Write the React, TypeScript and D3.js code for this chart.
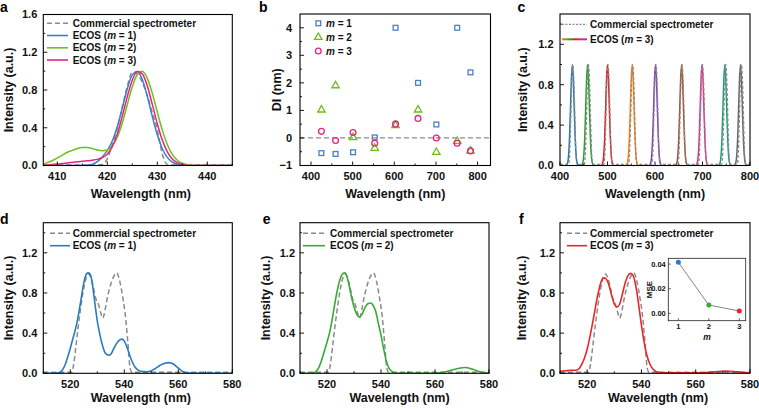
import React from 'react';
import * as d3 from 'd3';

const FONT = "'Liberation Sans', Arial, Helvetica, sans-serif";

// ---------------- Panel a data ----------------
const aWavelength = d3.range(407, 446); // 407..445 nm
const aCommercial = [0.005,0.005,0.005,0.005,0.005,0.005,0.005,0.005,0.005,0.005,0.005,0.005,
  0.01,0.07,0.22,0.40,0.62,0.84,0.99,0.97,0.88,0.74,0.56,0.38,0.12,0.01,
  0.005,0.005,0.005,0.005,0.005,0.005,0.005,0.01,0.005,0.005,0.005,0.005,0.005];
const aEcos1 = [0,0,0,0,0,0,0,0,0.001,0.004,0.012,0.04,0.09,0.16,0.26,0.41,0.607,0.813,0.96,0.997,0.912,0.734,0.52,0.325,0.178,0.086,0.037,0.014,0.005,0,0,0,0,0,0,0,0,0,0];
const aEcos2 = [0.01,0.03,0.05,0.08,0.11,0.14,0.16,0.18,0.19,0.19,0.18,0.165,0.157,0.165,0.21,0.3,0.45,0.647,0.835,0.965,0.998,0.923,0.764,0.566,0.375,0.223,0.118,0.056,0.024,0.009,0.003,0,0,0,0,0,0,0,0];
const aEcos3 = [0,0.005,0.01,0.015,0.02,0.027,0.033,0.039,0.045,0.05,0.056,0.065,0.085,0.12,0.2,0.333,0.523,0.73,0.904,0.995,0.971,0.842,0.648,0.443,0.269,0.145,0.069,0.03,0.011,0.004,0,0,0,0,0,0,0,0,0];

// ---------------- Panel b data ----------------
const bWavelength = [425, 459, 501, 553, 603, 657, 701, 751, 783];
const bM1 = [-0.55, -0.58, -0.52, 0.02, 4.0, 2.0, 0.49, 4.0, 2.38];
const bM2 = [1.02, 1.9, 0.02, -0.37, 0.45, 1.02, -0.52, -0.12, -0.47];
const bM3 = [0.24, -0.09, 0.2, -0.19, 0.51, 0.71, 0.0, -0.19, -0.47];

// ---------------- Panel c data ----------------
const cPeakCenters = [426, 458, 500, 552, 601, 656, 699, 747, 780];
const cPeakColors = ['#1f77b4', '#2ca02c', '#e31a1c', '#ff7f0e', '#7e3fb8', '#a0522d', '#e7298a', '#1b9e77', '#666666'];
const cEcosOffsets = [-14, -12, -10, -8, -6, -4, -2, 0, 2, 4, 6, 8, 10, 12, 14];
const cEcosProfile = [0, 0.005, 0.026, 0.097, 0.27, 0.558, 0.864, 1, 0.864, 0.558, 0.27, 0.097, 0.026, 0.005, 0];
const cCommercialCenters = [427, 460, 501, 553, 602, 657, 700, 749, 782];
const cCommercialOffsets = [-9, -7, -5, -3, -1, 0, 1, 3, 5, 7, 9];
const cCommercialProfile = [0.012, 0.08, 0.35, 0.72, 0.96, 1, 0.96, 0.72, 0.35, 0.08, 0.012];
const cBaseline = 0.012;

// ---------------- Panels d/e/f data ----------------
const defCommercial: [number, number][] = [
  [510,0.01],[514,0.01],[518,0.01],[520.5,0.01],[521.3,0.1],[522,0.25],[523,0.48],[524,0.68],[525,0.85],[526,0.96],
  [526.7,0.99],[527.5,0.96],[528.5,0.86],[529.5,0.74],[530.5,0.68],[531.3,0.6],[532,0.55],[532.8,0.62],[533.7,0.75],
  [534.8,0.87],[536,0.96],[537.2,1.0],[538.3,0.92],[539.4,0.76],[540.5,0.55],[541.4,0.28],[542.1,0.06],[542.8,0.01],
  [546,0.01],[550,0.01],[555,0.01],[560,0.01],[565,0.01],[570,0.01],[575,0.01],[580,0.01]];
const dEcos1: [number, number][] = [
  [510,0],[512,0],[514,0],[515,0.003],[516,0.008],[517,0.03],[518,0.08],[519,0.16],[520,0.25],[521,0.35],[522,0.45],
  [523,0.58],[524,0.74],[525,0.9],[526,0.99],[526.7,1.0],[527.5,0.98],[528,0.92],[529,0.72],[530,0.52],[531,0.38],
  [532,0.27],[533,0.2],[534.3,0.18],[535,0.19],[536,0.24],[537,0.29],[538,0.325],[539.2,0.34],[540,0.32],[541,0.26],
  [542,0.18],[543,0.11],[544,0.06],[545,0.035],[546,0.02],[548.5,0.015],[550,0.025],[551,0.04],[552,0.057],[553,0.075],
  [554,0.09],[555,0.1],[556.4,0.106],[557,0.104],[558,0.095],[559,0.075],[560,0.052],[561,0.03],[562,0.014],[563,0.005],
  [565,0],[570,0],[575,0],[580,0]];
const eEcos2: [number, number][] = [
  [510,0],[514,0],[515,0.005],[516,0.02],[517,0.06],[518,0.13],[519,0.22],[520,0.31],[521,0.41],[522,0.55],[523,0.71],
  [524,0.85],[525,0.95],[526,0.995],[526.5,1.0],[527,0.99],[528,0.9],[529,0.77],[530,0.66],[531,0.59],[532,0.56],
  [533,0.59],[534,0.65],[535,0.69],[536.2,0.70],[537,0.68],[538,0.62],[539,0.5],[540,0.38],[541,0.24],[542,0.12],
  [543,0.05],[544,0.02],[545,0.005],[546,0],[560,0],[562,0.005],[564,0.015],[566,0.03],[568,0.045],[570,0.055],
  [571,0.058],[572,0.055],[574,0.04],[576,0.02],[578,0.007],[580,0]];
const fEcos3: [number, number][] = [
  [510,0.02],[512,0.025],[514,0.03],[516,0.03],[517,0.045],[518,0.09],[519,0.15],[520,0.24],[521,0.36],[522,0.5],
  [523,0.65],[524,0.79],[525,0.9],[526,0.95],[527,0.94],[528,0.88],[529,0.78],[530,0.69],[531,0.66],[532,0.69],
  [533,0.79],[534,0.9],[535,0.97],[536,0.995],[537,0.97],[538,0.86],[539,0.68],[540,0.48],[541,0.31],[542,0.18],
  [543,0.1],[544,0.05],[545,0.025],[546,0.012],[548,0.005],[560,0.005],[565,0.01],[568,0.018],[571,0.022],[574,0.018],
  [577,0.01],[580,0.005]];

// inset of f
const insetM = [1, 2, 3];
const insetMSE = [0.0414, 0.0067, 0.0019];
const insetColors = ['#2a7cc0', '#3aaa35', '#e8262a'];

const GRAY = '#8a8a8a';
const DASH = '5,3';

type Frame = { l: number; r: number; t: number; b: number };
type Sc = d3.ScaleLinear<number, number>;

function lineOf(x: Sc, y: Sc, pts: [number, number][]) {
  return d3.line<[number, number]>().x(d => x(d[0])).y(d => y(d[1])).curve(d3.curveMonotoneX)(pts) || '';
}

function Panel(props: {
  id: string; frame: Frame; xDomain: [number, number]; yDomain: [number, number];
  xTicks: number[]; xMinor: number[]; yTicks: number[]; yMinor: number[];
  yFmt: (v: number) => string; yLabel: string; yLabelX: number; yGap: number; xLabelDx: number;
  xLabelY: number; letter: string; letterX: number; letterY: number;
  plot: (x: Sc, y: Sc) => React.ReactNode; over?: (x: Sc, y: Sc) => React.ReactNode;
}) {
  const { frame: f } = props;
  const x = d3.scaleLinear().domain(props.xDomain).range([f.l, f.r]);
  const y = d3.scaleLinear().domain(props.yDomain).range([f.b, f.t]);
  const cy = (f.t + f.b) / 2;
  const cx = (f.l + f.r) / 2 + props.xLabelDx;
  return (
    <g>
      <defs>
        <clipPath id={props.id}>
          <rect x={f.l} y={f.t} width={f.r - f.l} height={f.b - f.t} />
        </clipPath>
      </defs>
      <g clipPath={`url(#${props.id})`}>{props.plot(x, y)}</g>
      <g stroke="#000" strokeWidth={0.9}>
        {props.xTicks.map(v => <line key={'xt' + v} x1={x(v)} x2={x(v)} y1={f.b} y2={f.b - 4} />)}
        {props.xMinor.map(v => <line key={'xm' + v} x1={x(v)} x2={x(v)} y1={f.b} y2={f.b - 2} />)}
        {props.yTicks.map(v => <line key={'yt' + v} x1={f.l} x2={f.l + 4} y1={y(v)} y2={y(v)} />)}
        {props.yMinor.map(v => <line key={'ym' + v} x1={f.l} x2={f.l + 2} y1={y(v)} y2={y(v)} />)}
      </g>
      <rect x={f.l} y={f.t} width={f.r - f.l} height={f.b - f.t} fill="none" stroke="#000" strokeWidth={1.1} />
      {props.over && props.over(x, y)}
      <g fontSize={11} fontWeight="bold" fill="#111">
        {props.xTicks.map(v => (
          <text key={'xl' + v} x={x(v)} y={f.b + 14.5} textAnchor="middle">{v}</text>
        ))}
        {props.yTicks.map(v => (
          <text key={'yl' + v} x={f.l - props.yGap} y={y(v)} dy="0.36em" textAnchor="end">{props.yFmt(v)}</text>
        ))}
      </g>
      <text x={cx} y={props.xLabelY} textAnchor="middle" fontSize={12.5} fontWeight="bold" fill="#111">Wavelength (nm)</text>
      <text transform={`translate(${props.yLabelX},${cy}) rotate(-90)`} textAnchor="middle" fontSize={12.5} fontWeight="bold" fill="#111">{props.yLabel}</text>
      <text x={props.letterX} y={props.letterY} fontSize={14} fontWeight="bold" fill="#000">{props.letter}</text>
    </g>
  );
}

function LegendLine(p: { x1: number; x2: number; tx: number; y: number; color: string; dash?: string; children: React.ReactNode; width?: number; stroke?: string }) {
  return (
    <g>
      <line x1={p.x1} x2={p.x2} y1={p.y} y2={p.y} stroke={p.stroke || p.color} strokeWidth={p.width || 1.6} strokeDasharray={p.dash} />
      <text x={p.tx} y={p.y} dy="0.36em" fontSize={10} fontWeight="bold" fill="#111">{p.children}</text>
    </g>
  );
}

const I = (s: string) => <tspan fontStyle="italic">{s}</tspan>;

const fmt1 = d3.format('.1f');
const fmtInt = (v: number) => d3.format('d')(v);

export default function App() {
  const aCol = { m1: '#3f7fc6', m2: '#6cc11c', m3: '#e8237d' };
  const bCol = { m1: '#4a7fc4', m2: '#6cbf1a', m3: '#e8237d' };
  const defY = { yTicks: [0, 0.4, 0.8, 1.2], yMinor: [0.2, 0.6, 1.0, 1.4], yDomain: [0, 1.5] as [number, number] };
  const defX = { xDomain: [510, 580] as [number, number], xTicks: [520, 540, 560, 580], xMinor: [510, 530, 550, 570] };

  const cCommercialPts: [number, number][] = [[400, cBaseline]];
  cCommercialCenters.forEach(c => cCommercialOffsets.forEach((o, i) => cCommercialPts.push([c + o, cCommercialProfile[i]])));
  cCommercialPts.push([800, cBaseline]);

  return (
    <svg width={759} height={411} style={{ position: 'absolute', left: 0, top: 0, background: '#fff' }} fontFamily={FONT}>
      <defs>
        <linearGradient id="ecosGrad" gradientUnits="userSpaceOnUse" x1={562} x2={587} y1={0} y2={0}>
          <stop offset="0" stopColor="#ff7f0e" />
          <stop offset="0.3" stopColor="#2ca02c" />
          <stop offset="0.55" stopColor="#e31a1c" />
          <stop offset="0.8" stopColor="#e7298a" />
          <stop offset="1" stopColor="#7e3fb8" />
        </linearGradient>
      </defs>

      {/* ---------- a ---------- */}
      <Panel id="pa" frame={{ l: 43.3, r: 232.3, t: 14.5, b: 165.5 }} xDomain={[407.2, 445]} yDomain={[0, 1.6]}
        xTicks={[410, 420, 430, 440]} xMinor={[415, 425, 435, 445]} yTicks={[0, 0.4, 0.8, 1.2, 1.6]} yMinor={[0.2, 0.6, 1.0, 1.4]}
        yFmt={fmt1} yLabel="Intensity (a.u.)" yLabelX={12.5} yGap={6} xLabelDx={3} xLabelY={197.5}
        letter="a" letterX={0} letterY={11.5}
        plot={(x, y) => (
          <g fill="none">
            <path d={lineOf(x, y, aWavelength.map((w, i) => [w, aCommercial[i]]))} stroke={GRAY} strokeWidth={1.5} strokeDasharray={DASH} />
            <path d={lineOf(x, y, aWavelength.map((w, i) => [w, aEcos1[i]]))} stroke={aCol.m1} strokeWidth={1.5} />
            <path d={lineOf(x, y, aWavelength.map((w, i) => [w, aEcos2[i]]))} stroke={aCol.m2} strokeWidth={1.5} />
            <path d={lineOf(x, y, aWavelength.map((w, i) => [w, aEcos3[i]]))} stroke={aCol.m3} strokeWidth={1.5} />
          </g>
        )}
        over={() => (
          <g>
            <LegendLine x1={47} x2={68} tx={72.7} y={23.3} color={GRAY} dash={DASH}>Commercial spectrometer</LegendLine>
            <LegendLine x1={47} x2={68} tx={72.7} y={35.5} color={aCol.m1}>ECOS ({I('m')} = 1)</LegendLine>
            <LegendLine x1={47} x2={68} tx={72.7} y={47.8} color={aCol.m2}>ECOS ({I('m')} = 2)</LegendLine>
            <LegendLine x1={47} x2={68} tx={72.7} y={60} color={aCol.m3}>ECOS ({I('m')} = 3)</LegendLine>
          </g>
        )}
      />

      {/* ---------- b ---------- */}
      <Panel id="pb" frame={{ l: 300, r: 490.5, t: 14, b: 165.5 }} xDomain={[373.6, 831]} yDomain={[-1, 4.5]}
        xTicks={[400, 500, 600, 700, 800]} xMinor={[450, 550, 650, 750]} yTicks={[-1, 0, 1, 2, 3, 4]} yMinor={[-0.5, 0.5, 1.5, 2.5, 3.5]}
        yFmt={fmtInt} yLabel="DI (nm)" yLabelX={281} yGap={8} xLabelDx={0} xLabelY={197.5}
        letter="b" letterX={259} letterY={12}
        plot={(x, y) => (
          <g fill="none" strokeWidth={1.3}>
            <line x1={x(373.6)} x2={x(831)} y1={y(0)} y2={y(0)} stroke={GRAY} strokeWidth={1.3} strokeDasharray={DASH} />
            {bWavelength.map((w, i) => (
              <rect key={'s' + i} x={x(w) - 2.4} y={y(bM1[i]) - 2.4} width={4.8} height={4.8} stroke={bCol.m1} />
            ))}
            {bWavelength.map((w, i) => (
              <path key={'t' + i} transform={`translate(${x(w)},${y(bM2[i])})`} d={d3.symbol().type(d3.symbolTriangle).size(24)() || ''} stroke={bCol.m2} />
            ))}
            {bWavelength.map((w, i) => (
              <circle key={'c' + i} cx={x(w)} cy={y(bM3[i])} r={2.9} stroke={bCol.m3} />
            ))}
          </g>
        )}
        over={() => (
          <g fill="none" strokeWidth={1.3}>
            <rect x={318.3 - 2.4} y={23.3 - 2.4} width={4.8} height={4.8} stroke={bCol.m1} />
            <path transform="translate(318.3,37.3)" d={d3.symbol().type(d3.symbolTriangle).size(24)() || ''} stroke={bCol.m2} />
            <circle cx={318.3} cy={51} r={2.9} stroke={bCol.m3} />
            <g fontSize={10} fontWeight="bold" fill="#111" stroke="none">
              <text x={326} y={23.3} dy="0.36em">{I('m')} = 1</text>
              <text x={326} y={37.3} dy="0.36em">{I('m')} = 2</text>
              <text x={326} y={51} dy="0.36em">{I('m')} = 3</text>
            </g>
          </g>
        )}
      />

      {/* ---------- c ---------- */}
      <Panel id="pc" frame={{ l: 560, r: 750, t: 14, b: 165.5 }} xDomain={[400, 800]} yDomain={[0, 1.5]}
        xTicks={[400, 500, 600, 700, 800]} xMinor={[450, 550, 650, 750]} yTicks={[0, 0.4, 0.8, 1.2]} yMinor={[0.2, 0.6, 1.0, 1.4]}
        yFmt={fmt1} yLabel="Intensity (a.u.)" yLabelX={526.5} yGap={6.5} xLabelDx={0} xLabelY={197.5}
        letter="c" letterX={517.5} letterY={12}
        plot={(x, y) => (
          <g fill="none">
            {cPeakCenters.map((c, k) => (
              <path key={'pk' + k} d={lineOf(x, y, cEcosOffsets.map((o, i) => [c + o, cEcosProfile[i]]))} stroke={cPeakColors[k]} strokeWidth={1.5} />
            ))}
            <path d={lineOf(x, y, cCommercialPts)} stroke={GRAY} strokeWidth={1.3} strokeDasharray="3,2" />
          </g>
        )}
        over={() => (
          <g>
            <LegendLine x1={562} x2={587} tx={590} y={24.3} color={GRAY} dash="2,1.5" width={1.3}>Commercial spectrometer</LegendLine>
            <LegendLine x1={562} x2={587} tx={590} y={39.3} color="#e31a1c" stroke="url(#ecosGrad)" width={2}>ECOS ({I('m')} = 3)</LegendLine>
          </g>
        )}
      />

      {/* ---------- d ---------- */}
      <Panel id="pd" frame={{ l: 43.3, r: 232.3, t: 222.7, b: 373.3 }} {...defX} {...defY}
        yFmt={fmt1} yLabel="Intensity (a.u.)" yLabelX={12.5} yGap={6} xLabelDx={3} xLabelY={402}
        letter="d" letterX={0} letterY={224}
        plot={(x, y) => (
          <g fill="none">
            <path d={lineOf(x, y, defCommercial)} stroke={GRAY} strokeWidth={1.5} strokeDasharray={DASH} />
            <path d={lineOf(x, y, dEcos1)} stroke="#2a7cc0" strokeWidth={1.6} />
          </g>
        )}
        over={() => (
          <g>
            <LegendLine x1={50} x2={70} tx={72.7} y={233.3} color={GRAY} dash={DASH}>Commercial spectrometer</LegendLine>
            <LegendLine x1={50} x2={70} tx={72.7} y={245.7} color="#2a7cc0">ECOS ({I('m')} = 1)</LegendLine>
          </g>
        )}
      />

      {/* ---------- e ---------- */}
      <Panel id="pe" frame={{ l: 300, r: 489, t: 222.7, b: 373.3 }} {...defX} {...defY}
        yFmt={fmt1} yLabel="Intensity (a.u.)" yLabelX={269.5} yGap={5} xLabelDx={5} xLabelY={402}
        letter="e" letterX={262.7} letterY={224}
        plot={(x, y) => (
          <g fill="none">
            <path d={lineOf(x, y, defCommercial)} stroke={GRAY} strokeWidth={1.5} strokeDasharray={DASH} />
            <path d={lineOf(x, y, eEcos2)} stroke="#3aaa35" strokeWidth={1.6} />
          </g>
        )}
        over={() => (
          <g>
            <LegendLine x1={303} x2={325} tx={330} y={233.3} color={GRAY} dash={DASH}>Commercial spectrometer</LegendLine>
            <LegendLine x1={303} x2={325} tx={330} y={245.7} color="#3aaa35">ECOS ({I('m')} = 2)</LegendLine>
          </g>
        )}
      />

      {/* ---------- f ---------- */}
      <Panel id="pf" frame={{ l: 560, r: 750, t: 222.7, b: 373.3 }} {...defX} {...defY}
        yFmt={fmt1} yLabel="Intensity (a.u.)" yLabelX={525.5} yGap={5} xLabelDx={3} xLabelY={402}
        letter="f" letterX={519} letterY={224}
        plot={(x, y) => (
          <g fill="none">
            <path d={lineOf(x, y, defCommercial)} stroke={GRAY} strokeWidth={1.5} strokeDasharray={DASH} />
            <path d={lineOf(x, y, fEcos3)} stroke="#e8262a" strokeWidth={1.6} />
          </g>
        )}
        over={() => (
          <g>
            <LegendLine x1={567} x2={587} tx={590} y={233.3} color={GRAY} dash={DASH}>Commercial spectrometer</LegendLine>
            <LegendLine x1={567} x2={587} tx={590} y={245.7} color="#e8262a">ECOS ({I('m')} = 3)</LegendLine>
            <Inset />
          </g>
        )}
      />
    </svg>
  );
}

function Inset() {
  const f = { l: 668.3, r: 745.7, t: 258.3, b: 320.7 };
  const x = d3.scaleLinear().domain([0.67, 3.21]).range([f.l, f.r]);
  const y = d3.scaleLinear().domain([-0.006, 0.0447]).range([f.b, f.t]);
  const pts: [number, number][] = insetM.map((m, i) => [x(m), y(insetMSE[i])]);
  const yT = [0, 0.02, 0.04];
  return (
    <g>
      <rect x={f.l} y={f.t} width={f.r - f.l} height={f.b - f.t} fill="#fff" stroke="#222" strokeWidth={0.8} />
      <g stroke="#222" strokeWidth={0.7}>
        {insetM.map(m => <line key={m} x1={x(m)} x2={x(m)} y1={f.b} y2={f.b - 2.5} />)}
        {yT.map(v => <line key={v} x1={f.l} x2={f.l + 2.5} y1={y(v)} y2={y(v)} />)}
      </g>
      <path d={d3.line()(pts) || ''} fill="none" stroke="#777" strokeWidth={0.9} />
      {pts.map((p, i) => <circle key={i} cx={p[0]} cy={p[1]} r={2.5} fill={insetColors[i]} />)}
      <g fontSize={7.5} fontWeight="bold" fill="#111">
        {insetM.map(m => <text key={m} x={x(m)} y={329} textAnchor="middle">{m}</text>)}
        {yT.map(v => <text key={v} x={f.l - 2.5} y={y(v)} dy="0.36em" textAnchor="end">{d3.format('.2f')(v)}</text>)}
      </g>
      <text transform={`translate(651.5,${(f.t + f.b) / 2}) rotate(-90)`} textAnchor="middle" fontSize={8} fontWeight="bold" fill="#111">MSE</text>
      <text x={(f.l + f.r) / 2} y={339.5} textAnchor="middle" fontSize={8.5} fontWeight="bold" fontStyle="italic" fill="#111">m</text>
    </g>
  );
}
